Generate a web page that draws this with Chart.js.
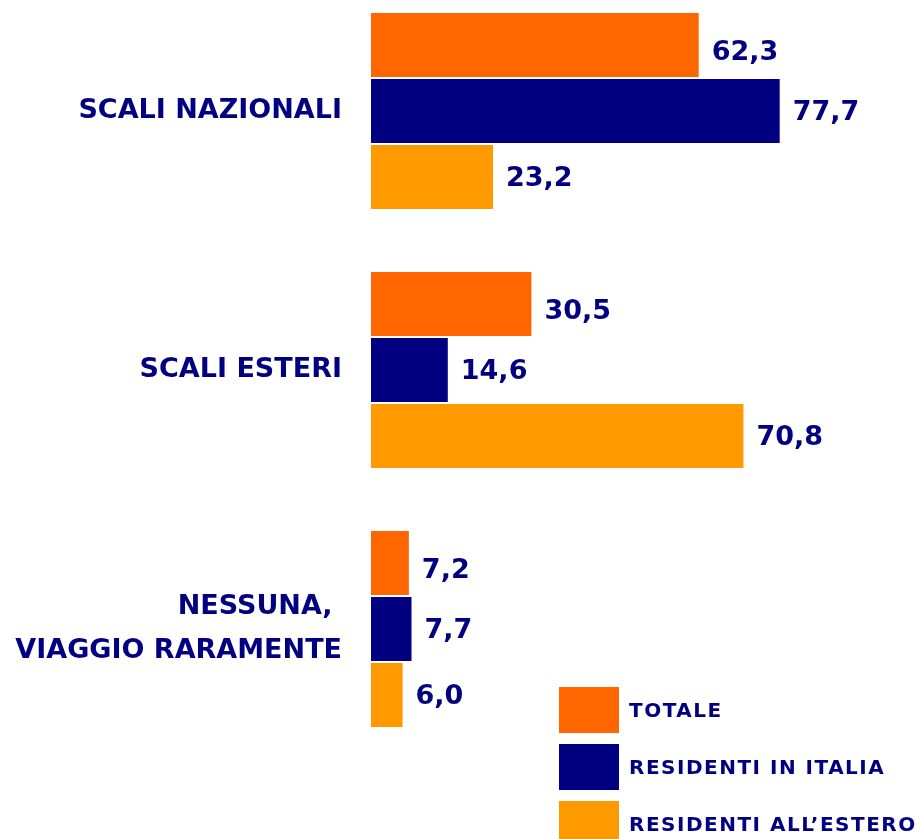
<!DOCTYPE html>
<html>
<head>
<meta charset="utf-8">
<script src="https://cdn.jsdelivr.net/npm/chart.js@4/dist/chart.umd.min.js"></script>
<style>
    html, body { margin: 0; padding: 0; background: #ffffff; }
    #wrap { position: relative; width: 917px; height: 839px; }
</style>
</head>
<body>
<div id="wrap"><canvas id="chart"></canvas></div>
<script>
const categories = ['SCALI NAZIONALI', 'SCALI ESTERI', ['NESSUNA, ', 'VIAGGIO RARAMENTE']];
const seriesNames = ['TOTALE', 'RESIDENTI IN ITALIA', 'RESIDENTI ALL\u2019ESTERO'];
const totale = [62.3, 30.5, 7.2];
const residentiItalia = [77.7, 14.6, 7.7];
const residentiEstero = [23.2, 70.8, 6.0];

const colors = ['#ff6600', '#000080', '#ff9900'];
const textColor = '#000080';
const fontFamily = '"DejaVu Sans", Verdana, sans-serif';
// the orange labels sit a little lower than the others in the original
const labelDrop = [8, 2, 2];

const fmt = (v) => v.toFixed(1).replace('.', ',');

// value labels at the end of each bar
const valueLabels = {
    id: 'valueLabels',
    afterDatasetsDraw(chart) {
        const ctx = chart.ctx;
        ctx.save();
        ctx.font = `bold 27px ${fontFamily}`;
        ctx.fillStyle = textColor;
        ctx.textAlign = 'left';
        ctx.textBaseline = 'middle';
        chart.data.datasets.forEach((ds, i) => {
            chart.getDatasetMeta(i).data.forEach((bar, j) => {
                ctx.fillText(fmt(ds.data[j]), bar.x + 13, bar.y + labelDrop[i]);
            });
        });
        ctx.restore();
    },
};

// legend box in the lower right corner
const boxLegend = {
    id: 'boxLegend',
    afterDraw(chart) {
        const ctx = chart.ctx;
        ctx.save();
        ctx.font = `bold 20px ${fontFamily}`;
        ctx.textBaseline = 'middle';
        ctx.textAlign = 'left';
        if ('letterSpacing' in ctx) ctx.letterSpacing = '1.5px';
        chart.data.datasets.forEach((ds, i) => {
            const top = 687 + i * 57;
            ctx.fillStyle = ds.backgroundColor;
            ctx.fillRect(559, top, 60, 46);
            ctx.fillStyle = textColor;
            ctx.fillText(ds.label, 629, top + 25);
        });
        ctx.restore();
    },
};

const makeDataset = (label, data, color) => ({
    label,
    data,
    backgroundColor: color,
    borderWidth: 0,
    categoryPercentage: 0.765,
    barPercentage: 0.97,
    clip: false,
});

new Chart(document.getElementById('chart'), {
    type: 'bar',
    data: {
        labels: categories,
        datasets: [
            makeDataset(seriesNames[0], totale, colors[0]),
            makeDataset(seriesNames[1], residentiItalia, colors[1]),
            makeDataset(seriesNames[2], residentiEstero, colors[2]),
        ],
    },
    options: {
        indexAxis: 'y',
        responsive: true,
        maintainAspectRatio: false,
        animation: false,
        layout: {
            padding: { top: 111, bottom: 210, left: 0, right: 20 },
        },
        plugins: {
            legend: { display: false },
            tooltip: { enabled: false },
        },
        scales: {
            x: {
                display: false,
                min: 0,
                max: 100,
            },
            y: {
                offset: false,
                grid: { display: false, drawTicks: false },
                border: { display: false },
                ticks: {
                    color: textColor,
                    padding: 29,
                    font: { family: fontFamily, size: 27, weight: 'bold', lineHeight: 1.6 },
                },
                afterFit(scale) {
                    scale.width = 371;
                },
            },
        },
    },
    plugins: [valueLabels, boxLegend],
});
</script>
</body>
</html>
